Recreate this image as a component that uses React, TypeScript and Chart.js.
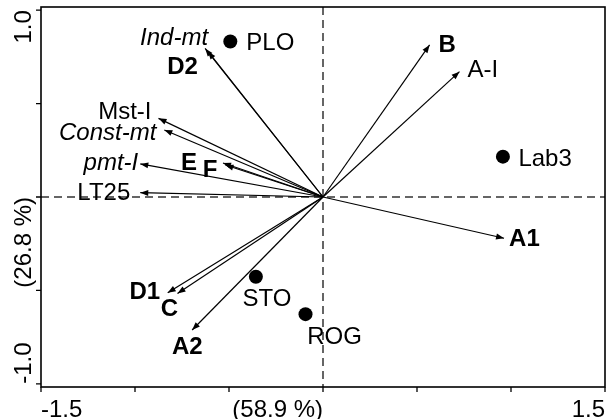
import React, { useEffect, useRef } from "react";
import { Chart, registerables } from "chart.js";

Chart.register(...registerables);

// Variable vectors (arrows)
const arrowNames = ["Ind-mt", "D2", "Mst-I", "Const-mt", "pmt-I", "E", "F", "LT25", "B", "A-I", "A1", "D1", "C", "A2"];
const arrowX = [-0.627, -0.612, -0.875, -0.844, -0.972, -0.532, -0.519, -0.972, 0.567, 0.726, 0.963, -0.826, -0.774, -0.696];
const arrowY = [0.795, 0.779, 0.421, 0.359, 0.177, 0.182, 0.171, 0.023, 0.814, 0.671, -0.221, -0.513, -0.516, -0.712];
const arrowStyle = ["italic", "bold", "normal", "italic", "italic", "bold", "bold", "normal", "bold", "normal", "bold", "bold", "bold", "bold"];

// Sites (points)
const siteNames = ["PLO", "Lab3", "STO", "ROG"];
const siteX = [-0.493, 0.957, -0.357, -0.093];
const siteY = [0.832, 0.216, -0.427, -0.627];

// Axes
const xTicks = [-1.5, -1, -0.5, 0, 0.5, 1, 1.5];
const yTicks = [-1, -0.5, 0, 0.5, 1];
const xLabelValues = [-1.5, 0, 1.5];
const xLabels = ["-1.5", "(58.9 %)", "1.5"];
const yLabelValues = [-1, 0, 1];
const yLabels = ["-1.0", "(26.8 %)", "1.0"];

// Label placement (pixel offsets from the mark, alignment)
const arrowLabelPos: [number, number, CanvasTextAlign][] = [
  [3, -12, "right"],
  [-10, 13.5, "right"],
  [-7, -8, "right"],
  [-8, 1.5, "right"],
  [-2, -2.5, "right"],
  [-26, -2, "right"],
  [-8, 3, "right"],
  [-10, -1, "right"],
  [9, -1.7, "left"],
  [8, -3.7, "left"],
  [5, -1.3, "left"],
  [-7.6, -2.7, "right"],
  [0.7, 13.7, "right"],
  [-4.8, 15, "center"],
];
const siteLabelPos: [number, number, CanvasTextAlign][] = [
  [16, 0, "left"],
  [15.5, 0.3, "left"],
  [11, 21, "center"],
  [1.7, 21, "left"],
];

const FONT_SIZE = 24;
const CAP = 0.716 * FONT_SIZE;
const fontFor = (style: string) =>
  `${style === "italic" ? "italic " : ""}${style === "bold" ? "bold " : ""}${FONT_SIZE}px "Liberation Sans", Arial, sans-serif`;

const biplotPlugin = {
  id: "biplot",
  beforeDatasetsDraw(chart: any) {
    const { ctx, chartArea: a, scales } = chart;
    const x0 = scales.x.getPixelForValue(0);
    const y0 = scales.y.getPixelForValue(0);
    ctx.save();
    ctx.setLineDash([8, 5]);
    ctx.strokeStyle = "#333";
    ctx.lineWidth = 1.5;
    ctx.beginPath();
    ctx.moveTo(a.left, y0);
    ctx.lineTo(a.right, y0);
    ctx.moveTo(x0, a.top);
    ctx.lineTo(x0, a.bottom);
    ctx.stroke();
    ctx.restore();
  },
  afterDatasetsDraw(chart: any) {
    const { ctx, chartArea: a, scales } = chart;
    const xs = scales.x;
    const ys = scales.y;
    const ox = xs.getPixelForValue(0);
    const oy = ys.getPixelForValue(0);
    ctx.save();
    ctx.fillStyle = "#000";
    ctx.strokeStyle = "#000";
    // arrowheads
    for (let i = 0; i < arrowNames.length; i++) {
      const tx = xs.getPixelForValue(arrowX[i]);
      const ty = ys.getPixelForValue(arrowY[i]);
      const th = Math.atan2(ty - oy, tx - ox);
      const L = 8;
      const W = 3;
      const bx = tx - L * Math.cos(th);
      const by = ty - L * Math.sin(th);
      ctx.beginPath();
      ctx.moveTo(tx, ty);
      ctx.lineTo(bx + W * Math.sin(th), by - W * Math.cos(th));
      ctx.lineTo(bx - W * Math.sin(th), by + W * Math.cos(th));
      ctx.closePath();
      ctx.fill();
    }
    // arrow labels
    ctx.textBaseline = "alphabetic";
    for (let i = 0; i < arrowNames.length; i++) {
      const tx = xs.getPixelForValue(arrowX[i]);
      const ty = ys.getPixelForValue(arrowY[i]);
      const [dx, dy, al] = arrowLabelPos[i];
      ctx.font = fontFor(arrowStyle[i]);
      ctx.textAlign = al;
      ctx.fillText(arrowNames[i], tx + dx, ty + dy + CAP / 2);
    }
    // site labels
    ctx.font = fontFor("normal");
    for (let i = 0; i < siteNames.length; i++) {
      const px = xs.getPixelForValue(siteX[i]);
      const py = ys.getPixelForValue(siteY[i]);
      const [dx, dy, al] = siteLabelPos[i];
      ctx.textAlign = al;
      ctx.fillText(siteNames[i], px + dx, py + dy + CAP / 2);
    }
    // frame
    ctx.lineWidth = 1.6;
    ctx.setLineDash([]);
    ctx.strokeRect(a.left, a.top, a.right - a.left, a.bottom - a.top);
    // ticks
    ctx.lineWidth = 1.3;
    ctx.beginPath();
    for (const v of xTicks) {
      const p = xs.getPixelForValue(v);
      ctx.moveTo(p, a.bottom);
      ctx.lineTo(p, a.bottom + 5);
    }
    for (const v of yTicks) {
      const p = ys.getPixelForValue(v);
      ctx.moveTo(a.left, p);
      ctx.lineTo(a.left - 5, p);
    }
    ctx.stroke();
    // tick labels
    ctx.font = fontFor("normal");
    for (let i = 0; i < xLabels.length; i++) {
      const p = xs.getPixelForValue(xLabelValues[i]);
      ctx.textAlign = i === 0 ? "left" : "right";
      ctx.fillText(xLabels[i], p, a.bottom + 30);
    }
    for (let i = 0; i < yLabels.length; i++) {
      const p = ys.getPixelForValue(yLabelValues[i]);
      ctx.save();
      ctx.translate(a.left - 10, p);
      ctx.rotate(-Math.PI / 2);
      ctx.textAlign = i === 0 ? "left" : "right";
      ctx.fillText(yLabels[i], 0, 0);
      ctx.restore();
    }
    ctx.restore();
  },
};

export default function App() {
  const ref = useRef<HTMLCanvasElement>(null);
  useEffect(() => {
    const arrowSets = arrowNames.map((n, i) => ({
      type: "line" as const,
      label: n,
      data: [
        { x: 0, y: 0 },
        { x: arrowX[i], y: arrowY[i] },
      ],
      borderColor: "#000",
      borderWidth: 1.2,
      pointRadius: 0,
      showLine: true,
      fill: false,
      tension: 0,
    }));
    const siteSet = {
      type: "scatter" as const,
      label: "sites",
      data: siteNames.map((_, i) => ({ x: siteX[i], y: siteY[i] })),
      pointRadius: 7,
      backgroundColor: "#000",
      borderWidth: 0,
    };
    const chart = new Chart(ref.current!, {
      type: "scatter",
      data: { datasets: [...arrowSets, siteSet] as any },
      options: {
        responsive: false,
        animation: false,
        devicePixelRatio: 1,
        events: [],
        layout: { padding: { left: 41, right: 2, top: 7, bottom: 32 } },
        scales: {
          x: { type: "linear", min: -1.5, max: 1.5, display: false },
          y: { type: "linear", min: -1.017, max: 1.017, display: false },
        },
        plugins: { legend: { display: false }, tooltip: { enabled: false } },
      },
      plugins: [biplotPlugin],
    });
    return () => chart.destroy();
  }, []);
  return (
    <div style={{ position: "absolute", left: 0, top: 0, width: 612, height: 419, background: "#fff" }}>
      <canvas ref={ref} width={612} height={419} style={{ display: "block" }} />
    </div>
  );
}
